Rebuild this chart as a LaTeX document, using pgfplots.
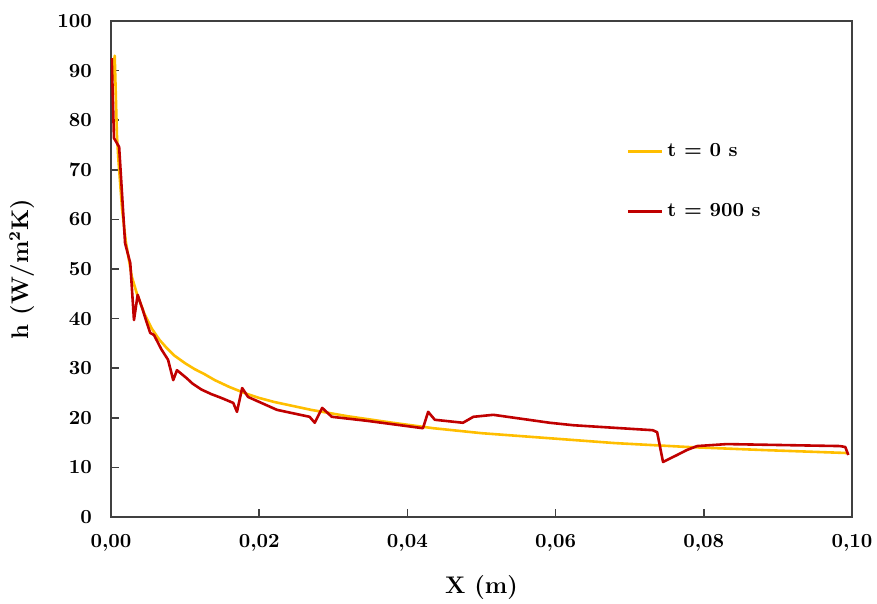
\documentclass[border=0pt]{standalone}
\usepackage{pgfplots}
\pgfplotsset{compat=1.18}
\definecolor{cyellow}{RGB}{255,190,0}
\definecolor{cred}{RGB}{192,0,0}
\begin{document}
\begin{tikzpicture}
\begin{axis}[
  name=ax,
  scale only axis,
  width=370.5pt, height=248pt,
  xmin=0, xmax=0.1, ymin=0, ymax=100,
  xtick={0,0.02,0.04,0.06,0.08,0.1},
  ytick={0,10,...,100},
  tick align=inside,
  xtick pos=bottom, ytick pos=left,
  major tick length=4pt,
  axis line style={black!75, line width=0.8pt},
  every tick/.style={black!75, line width=0.8pt},
  scaled x ticks=false,
  /pgf/number format/assume math mode=true,
  ticklabel style={font=\bfseries},
  xticklabel style={/pgf/number format/.cd, use comma, fixed, fixed zerofill, precision=2, /tikz/.cd, yshift=-5pt},
  yticklabel style={xshift=-6pt},
  xlabel={X (m)},
  ylabel={h (W/m\textsuperscript{2}K)},
  xlabel style={font=\large\bfseries, at={(axis description cs:0.5,-0.143)}, anchor=center},
  ylabel style={font=\large\bfseries, at={(axis description cs:-0.12,0.5)}, anchor=center, rotate=0},
  legend style={draw=none, fill=none, font=\bfseries, at={(axis description cs:0.69,0.77)}, anchor=north west, row sep=18pt, inner sep=2pt},
  legend cell align=left,
  legend image post style={line width=1.3pt},
]
\addplot[cyellow, line width=1.3pt, line join=round] coordinates {
(0.0002,88) (0.0005,93) (0.0008,77) (0.001,72) (0.0015,62) (0.002,55.5) (0.0028,48.5)
(0.0035,45) (0.0045,41) (0.0055,38) (0.0065,35.8) (0.0075,34.1) (0.0085,32.6) (0.010,31)
(0.0113,29.8) (0.0125,28.9) (0.014,27.6) (0.016,26.2) (0.018,25) (0.020,24.0) (0.022,23.2)
(0.0245,22.4) (0.027,21.6) (0.032,20.3) (0.038,19) (0.0435,17.9) (0.05,16.9)
(0.059,15.9) (0.068,14.9) (0.078,14.1) (0.088,13.5) (0.0993,12.9)
};
\addlegendentry{t = 0 s}
\addplot[cred, line width=1.3pt, line join=round] coordinates {
(0.0001,92.5) (0.0004,76.4) (0.0011,74.6) (0.0019,55.2) (0.0026,51.2) (0.0031,39.7)
(0.0036,44.8) (0.0043,41.7) (0.0048,39.3) (0.0053,37.1) (0.0058,36.7) (0.0068,33.8) (0.0077,31.7)
(0.0084,27.6) (0.0089,29.6) (0.0102,28) (0.011,26.9) (0.0122,25.7) (0.0135,24.8) (0.0149,24) (0.0165,23)
(0.0170,21.2) (0.0177,26) (0.0185,24.2) (0.0194,23.6) (0.0224,21.6) (0.0268,20.2)
(0.0275,19) (0.0285,22) (0.0298,20.2) (0.0345,19.4) (0.0421,17.9) (0.0428,21.2)
(0.0437,19.6) (0.0475,19) (0.0489,20.2) (0.0516,20.6) (0.0592,19) (0.0624,18.5)
(0.0731,17.5) (0.0737,17.1) (0.0745,11.1) (0.0764,12.5) (0.0777,13.5) (0.0791,14.3)
(0.0831,14.7) (0.0984,14.3) (0.0991,14.1) (0.0995,12.5)
};
\addlegendentry{t = 900 s}
\end{axis}
\pgfresetboundingbox
\path ([shift={(-55.5pt,-43.5pt)}]ax.south west) rectangle ([shift={(12.5pt,10.5pt)}]ax.north east);
\end{tikzpicture}
\end{document}
